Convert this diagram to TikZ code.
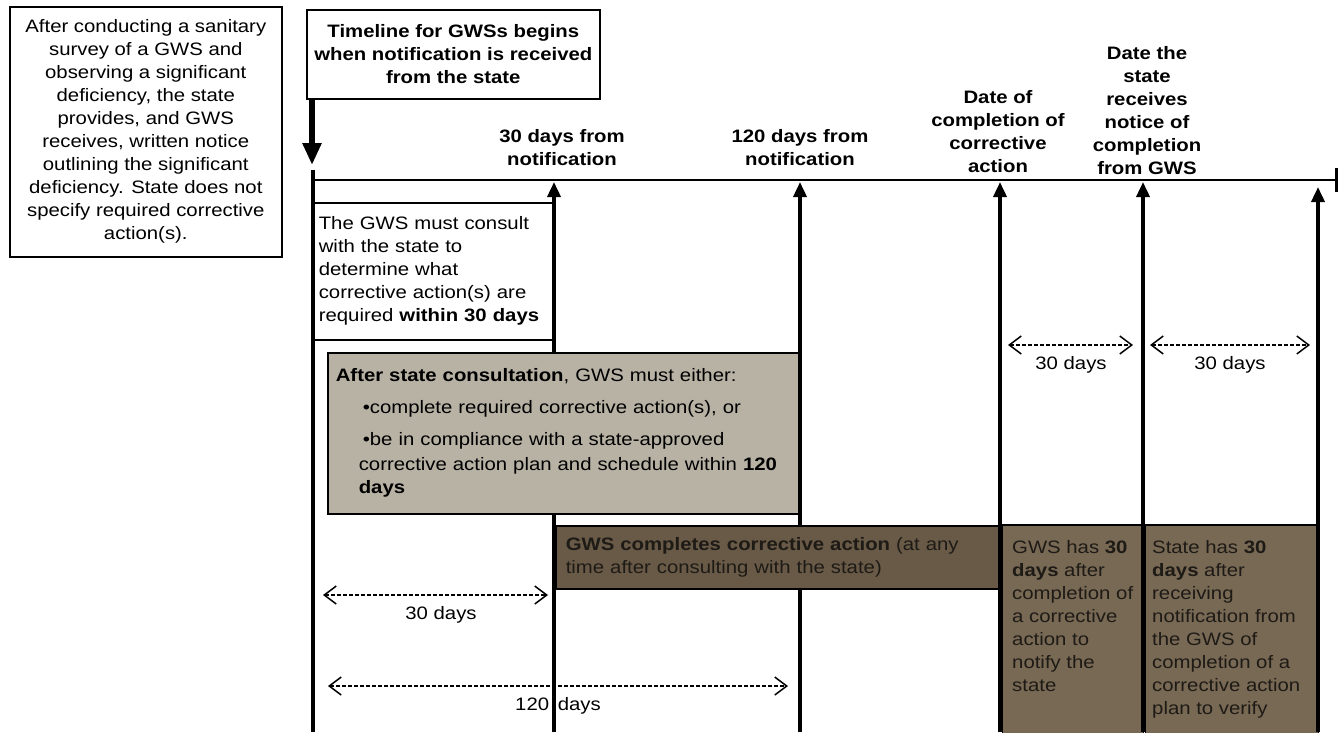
\documentclass[tikz,border=0pt]{standalone}
\usepackage{fontspec}
\setmainfont{Liberation Sans}[FakeStretch=1.13]
\usetikzlibrary{arrows.meta}
\definecolor{boxgray}{RGB}{184,178,165}
\definecolor{boxbrown}{RGB}{104,90,70}
\definecolor{boxbrownB}{RGB}{120,105,84}
\definecolor{inkdark}{RGB}{30,26,22}
\tikzset{
  every node/.style={inner sep=0pt},
  txt/.style={font=\fontsize{18}{23}\selectfont},
  hdr/.style={font=\fontsize{18}{23}\selectfont\bfseries, align=center},
  frame/.style={draw, line width=1.6pt},
  vline/.style={line width=3.5pt, -{Triangle[length=15pt,width=13pt]}},
  chev/.tip={Straight Barb[length=12pt,width=18pt,line width=1.5pt]},
  spanarrow/.style={line width=1.3pt, dash pattern=on 3.5pt off 2.5pt, chev-chev},
}
\begin{document}
\begin{tikzpicture}[x=1pt,y=-1pt]
\useasboundingbox (0,0) rectangle (1338,732);
\fill[white] (0,0) rectangle (1338,732);

% coordinates
\coordinate (mtop) at (313,170);
\coordinate (mbot) at (313,732);
\coordinate (axL) at (313,180);
\coordinate (axR) at (1336,180);
\coordinate (tickT) at (1336,168);
\coordinate (tickB) at (1336,192);
\coordinate (b30) at (554,732);   \coordinate (t30) at (554,182);
\coordinate (b120) at (800,732);  \coordinate (t120) at (800,182);
\coordinate (bdc) at (1000,732);  \coordinate (tdc) at (1000,182);
\coordinate (bdn) at (1143,732);  \coordinate (tdn) at (1143,182);
\coordinate (bend) at (1318,732); \coordinate (tend) at (1318,187);
\coordinate (starttip) at (312,165);

% intro box
\node[frame, txt, align=center, minimum width=272pt, minimum height=250pt, anchor=north west] (intro) at (9,6)
 {After conducting a sanitary\\ survey of a GWS and\\ observing a significant\\ deficiency, the state\\ provides, and GWS\\ receives, written notice\\ outlining the significant\\ deficiency. State does not\\ specify required corrective\\ action(s).};

% timeline box
\node[frame, hdr, minimum width=293pt, minimum height=89pt, anchor=north west] (timeline) at (306,9)
 {Timeline for GWSs begins\\ when notification is received\\ from the state};
\draw[line width=6pt, -{Triangle[length=22pt,width=18pt]}] (timeline.south -| starttip) -- (starttip);

% axis and main line
\draw[line width=4pt] (mtop) -- (mbot);
\draw[line width=2pt] (axL) -- (axR);
\draw[line width=3pt] (tickT) -- (tickB);

% milestone labels
\node[hdr] (l30) at (562,148) {30 days from\\ notification};
\node[hdr] (l120) at (800,148) {120 days from\\ notification};
\node[hdr] (ldc) at (998,131.5) {Date of\\ completion of\\ corrective\\ action};
\node[hdr] (ldn) at (1147,110.5) {Date the\\ state\\ receives\\ notice of\\ completion\\ from GWS};

% vertical arrows
\draw[vline] (b30) -- (t30);
\draw[vline] (b120) -- (t120);
\draw[vline] (bdc) -- (tdc);
\draw[vline] (bdn) -- (tdn);
\draw[vline] (bend) -- (tend);

% consult box
\node[frame, fill=white, txt, align=left, anchor=north west, minimum height=137pt, text width=229pt, inner xsep=5pt] (consult) at (313,202)
 {The GWS must consult\\ with the state to\\ determine what\\ corrective action(s) are\\ required \textbf{within 30 days}};

% gray box
\node[frame, fill=boxgray, txt, align=left, anchor=north west, minimum height=161pt, text width=455pt, inner xsep=8pt] (either) at (327,352)
 {\textbf{After state consultation}, GWS must either:\\[9pt]
  \hspace*{27pt}\textbullet complete required corrective action(s), or\\[9pt]
  \hspace*{27pt}\textbullet be in compliance with a state-approved\\[2pt]
  \hspace*{23pt}corrective action plan and schedule within \textbf{120}\\
  \hspace*{23pt}\textbf{days}};

% dark box
\node[frame, fill=boxbrown, txt, text=inkdark, align=left, anchor=north west, minimum height=63pt, text width=425pt, inner xsep=10pt] (completes) at (555,525)
 {\textbf{GWS completes corrective action} (at any\\ time after consulting with the state)};

% right boxes
\node[frame, fill=boxbrownB, anchor=north west, minimum width=141pt, minimum height=215pt] (notify) at (1001.5,524) {};
\node[frame, fill=boxbrownB, anchor=north west, minimum width=173pt, minimum height=215pt] (verify) at (1144.5,524) {};
\draw[line width=3.5pt] (bdc) -- (bdc |- notify.north);
\draw[line width=3.5pt] (bdn) -- (bdn |- notify.north);
\draw[line width=3.5pt] (bend) -- (bend |- notify.north);
\node[txt, text=inkdark, align=left, anchor=north west] (notifytxt) at (1012,540)
 {GWS has \textbf{30}\\ \textbf{days} after\\ completion of\\ a corrective\\ action to\\ notify the\\ state};
\node[txt, text=inkdark, align=left, anchor=north west] (verifytxt) at (1152,540)
 {State has \textbf{30}\\ \textbf{days} after\\ receiving\\ notification from\\ the GWS of\\ completion of a\\ corrective action\\ plan to verify};

% span arrows
\coordinate (s1a) at (1008,345); \coordinate (s1b) at (1133,345);
\coordinate (s2a) at (1150,345); \coordinate (s2b) at (1310,345);
\coordinate (s3a) at (323,595);  \coordinate (s3b) at (548,595);
\coordinate (s4a) at (328,686);  \coordinate (s4b) at (788,686);
\draw[spanarrow] (s1a) -- (s1b);
\draw[spanarrow] (s2a) -- (s2b);
\draw[spanarrow] (s3a) -- (s3b);
\draw[spanarrow] (s4a) -- (s4b);
\node[txt] (d1) at (1071,365) {30 days};
\node[txt] (d2) at (1230,365) {30 days};
\node[txt] (d3) at (441,615) {30 days};
\node[txt] (d4) at (558,706) {120\hspace{3pt} days};
\draw[line width=3.5pt] (b30) -- (b30 |- completes.south);
\end{tikzpicture}
\end{document}
